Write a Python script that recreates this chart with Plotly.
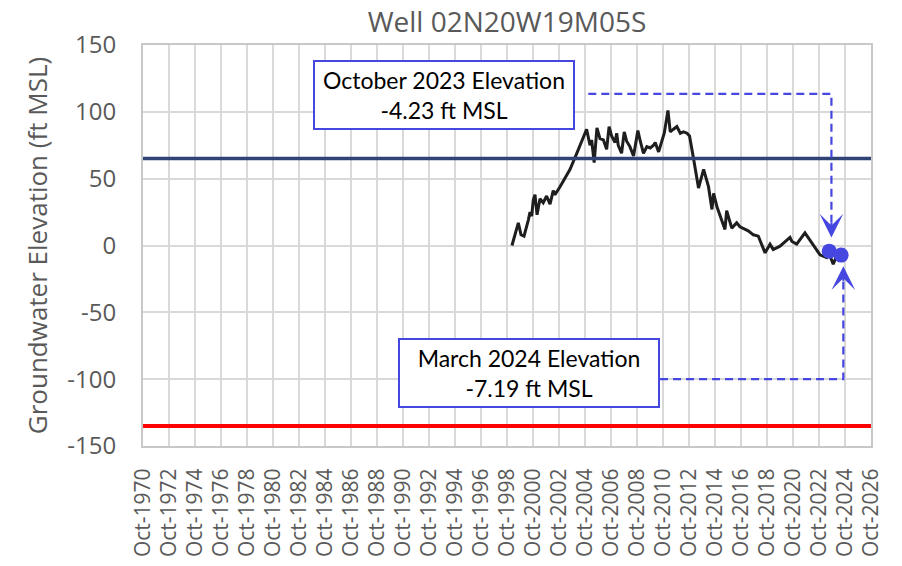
import plotly.graph_objects as go

# ---------------- data ----------------
DATES = [
    "1999-02-17", "1999-05-15", "1999-07-01", "1999-08-15", "1999-10-30",
    "2000-01-22", "2000-05-22", "2000-07-08", "2000-08-25", "2000-10-08",
    "2000-11-25", "2001-01-22", "2001-04-15", "2001-07-15", "2001-10-18",
    "2002-01-22", "2002-04-22", "2002-06-10", "2002-10-30", "2003-08-08",
    "2004-03-15", "2004-11-15", "2005-02-17", "2005-04-05", "2005-06-15",
    "2005-09-01", "2005-11-25", "2006-03-01", "2006-06-01", "2006-08-08",
    "2006-10-18", "2007-01-22", "2007-03-10", "2007-04-22", "2007-07-25",
    "2007-10-08", "2007-12-15", "2008-03-15", "2008-06-25", "2008-10-25",
    "2009-01-01", "2009-04-01", "2009-07-05", "2009-10-08", "2010-01-08",
    "2010-02-25", "2010-05-30", "2010-09-01", "2010-11-05", "2011-02-17",
    "2011-04-22", "2011-07-22", "2011-10-25", "2012-01-30", "2012-05-01",
    "2012-08-05", "2012-10-15", "2013-02-05", "2013-06-25", "2013-11-15",
    "2014-04-01", "2014-07-08", "2014-08-22", "2014-11-25", "2015-07-08",
    "2015-08-25", "2016-01-15", "2016-06-01", "2016-09-01", "2017-04-22",
    "2017-09-12", "2018-01-30", "2018-08-08", "2018-12-25", "2019-03-25",
    "2019-10-01", "2020-02-17", "2020-07-08", "2020-09-01", "2021-01-12",
    "2021-09-01", "2022-03-05", "2022-10-30", "2023-05-05", "2023-07-08",
    "2023-11-05", "2024-01-18",
]
ELEVATION = [
    0, 9, 12, 17, 8,
    7, 19, 25, 22, 34,
    38, 23, 35, 32, 37,
    31, 41, 38, 44, 57,
    71, 87, 75, 79, 62,
    88, 80, 79, 72, 89,
    82, 77, 84, 75, 69,
    85, 78, 74, 67, 86,
    78, 69, 74, 73, 75,
    77, 70, 79, 84, 101,
    85, 87, 89, 84, 85,
    84, 82, 65, 43, 57,
    44, 27, 39, 29, 12,
    26, 13, 17, 14, 11,
    8, 7, -5.5, 1, -3,
    -0.5, 2.5, 6, 3, 1,
    9.5, 2, -7, -9, -6,
    -14, -9,
]

# highlighted measurements
DOT_DATES = ["2023-07-15", "2024-06-15"]
DOT_VALUES = [-4.23, -7.19]
DOT_LABELS = ["October 2023 Elevation<br>-4.23 ft MSL",
              "March 2024 Elevation<br>-7.19 ft MSL"]

# reference levels
UPPER_LEVEL = 65
LOWER_LEVEL = -135

# x tick labels (every 2 years, October)
TICK_YEARS = list(range(1970, 2027, 2))
TICK_VALS = [f"{y}-10-01" for y in TICK_YEARS]
TICK_TEXT = [f"Oct-{y}" for y in TICK_YEARS]

# y tick labels
Y_TICKS = [-150, -100, -50, 0, 50, 100, 150]
Y_TICK_TEXT = [str(v) for v in Y_TICKS]

# label boxes / connectors (annotation layout)
BOX_X = ["1993-11-20", "2000-06-10"]
BOX_Y = [112.3, -95.1]
CONN_START_X = ["2005-01-01", "2010-07-10"]
CONN_Y = [113.4, -100.0]
CONN_X = ["2023-09-15", "2024-08-15"]
CONN_END_Y = [16.0, -26.0]
ARROW_TIP_Y = [6.0, -15.5]
ARROW_TAIL_PX = [-16, 16]

BLUE = "#4646E0"
GREY_TXT = "#595959"
GRID = "#D9D9D9"

fig = go.Figure()

# reference lines
fig.add_shape(type="line", xref="paper", x0=0, x1=1, y0=UPPER_LEVEL, y1=UPPER_LEVEL,
              line=dict(color="#2F4474", width=3.5), layer="above")
fig.add_shape(type="line", xref="paper", x0=0, x1=1, y0=LOWER_LEVEL, y1=LOWER_LEVEL,
              line=dict(color="#FF0000", width=4), layer="above")

# main series
fig.add_trace(go.Scatter(x=DATES, y=ELEVATION, mode="lines",
                         line=dict(color="#1E1E1E", width=3), showlegend=False,
                         hoverinfo="skip"))

# dashed connectors
for i in range(2):
    fig.add_shape(type="path",
                  path=f"M {CONN_START_X[i]},{CONN_Y[i]} L {CONN_X[i]},{CONN_Y[i]} L {CONN_X[i]},{CONN_END_Y[i]}",
                  line=dict(color=BLUE, width=2.2, dash="8px,5px"), layer="above")

# arrowheads
for i in range(2):
    fig.add_annotation(x=CONN_X[i], y=ARROW_TIP_Y[i], xref="x", yref="y",
                       text="", showarrow=True, ax=0, ay=ARROW_TAIL_PX[i],
                       arrowhead=3, arrowsize=1.8, arrowwidth=2.2,
                       arrowcolor=BLUE, standoff=0, startstandoff=0)

# dots
fig.add_trace(go.Scatter(x=DOT_DATES, y=DOT_VALUES, mode="markers",
                         marker=dict(size=15, color=BLUE), showlegend=False,
                         hoverinfo="skip"))

# label boxes
for i in range(2):
    fig.add_annotation(x=BOX_X[i], y=BOX_Y[i], xref="x", yref="y",
                       text=DOT_LABELS[i], showarrow=False,
                       font=dict(family="Lato", size=23, color="#000000"),
                       bgcolor="white", bordercolor=BLUE, borderwidth=2,
                       borderpad=4, width=250, height=58, align="center",
                       xanchor="center", yanchor="middle")

# y title as rotated annotation
fig.add_annotation(x=-0.146, y=0.5, xref="paper", yref="paper",
                   text="Groundwater Elevation (ft MSL)", showarrow=False,
                   textangle=-90, xanchor="center", yanchor="middle",
                   font=dict(family="Open Sans", size=26, color=GREY_TXT))

fig.update_layout(
    width=902, height=566,
    margin=dict(l=143, r=31, t=45, b=120),
    paper_bgcolor="white", plot_bgcolor="white",
    title=dict(text="Well 02N20W19M05S", x=0.5, xref="paper", y=0.96,
               yanchor="middle", xanchor="center",
               font=dict(family="Open Sans", size=28, color=GREY_TXT)),
    showlegend=False,
)
fig.update_xaxes(
    type="date", range=["1970-10-01", "2026-10-01"],
    tickmode="array", tickvals=TICK_VALS, ticktext=TICK_TEXT,
    tickangle=-90, tickfont=dict(family="Open Sans", size=21, color=GREY_TXT),
    showgrid=True, gridcolor=GRID, gridwidth=2,
    showline=True, linecolor="#C8C8C8", linewidth=2, mirror=True,
    zeroline=False, ticks="", ticklabelstandoff=12, automargin=False,
)
fig.update_yaxes(
    range=[-150, 150], tickmode="array", tickvals=Y_TICKS, ticktext=Y_TICK_TEXT,
    tickfont=dict(family="Open Sans", size=24, color=GREY_TXT),
    showgrid=True, gridcolor=GRID, gridwidth=2,
    showline=True, linecolor="#C8C8C8", linewidth=2, mirror=True,
    zeroline=False, ticks="", ticklabelstandoff=20, automargin=False,
)

fig.write_html("out.html",
               config={"displayModeBar": False},
               post_script="document.body.style.margin='0';")
